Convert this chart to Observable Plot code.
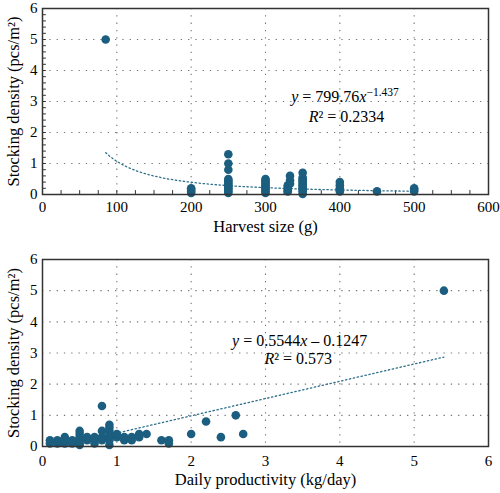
<!DOCTYPE html>
<html><head><meta charset="utf-8">
<script src="https://cdn.jsdelivr.net/npm/d3@7"></script>
<script src="https://cdn.jsdelivr.net/npm/@observablehq/plot@0.6"></script>
<style>body{margin:0;background:#fff} svg{display:block} #c{width:500px}</style>
</head><body><div id="c"></div>
<script>
// ---- Panel A: harvest size vs stocking density ----
const harvestSize = [85,
  200,200,200,200,
  250,250,250,250,250,250,250,250,250,250,250,250,250,
  300,300,300,300,300,300,300,300,300,300,
  330,330,330,330,330,333,333,333,
  350,350,350,350,350,350,350,350,350,350,350,350,
  400,400,400,400,400,
  450,
  500,500,500];
const densityA = [5,
  0.05,0.1,0.15,0.2,
  0.05,0.1,0.15,0.2,0.25,0.3,0.35,0.4,0.45,0.5,0.8,1.0,1.3,
  0.05,0.1,0.15,0.2,0.25,0.3,0.35,0.4,0.45,0.5,
  0.1,0.15,0.2,0.25,0.3,0.35,0.45,0.6,
  0.02,0.1,0.15,0.2,0.25,0.3,0.35,0.4,0.45,0.5,0.55,0.7,
  0.1,0.15,0.2,0.3,0.4,
  0.1,
  0.1,0.15,0.2];
const powerFit = {a: 799.76, b: -1.437, xmin: 85, xmax: 500};

// ---- Panel B: daily productivity vs stocking density ----
const productivity = [0.1,0.1, 0.2,0.2, 0.3,0.3,0.3, 0.4,0.4,
  0.5,0.5,0.5,0.5,0.5,0.5, 0.6,0.6, 0.7,0.7,0.7,
  0.8,0.8,0.8,0.8, 0.9,0.9,0.9,0.9,0.9,0.9,0.9,
  1.0,1.0, 1.1,1.1, 1.2,1.2, 1.3,1.3, 1.4, 1.6, 1.7,1.7,
  2.0, 2.2, 2.4, 2.6, 2.7, 5.4];
const densityB = [0.1,0.2, 0.1,0.2, 0.1,0.2,0.3, 0.1,0.2,
  0.05,0.1,0.2,0.3,0.4,0.5, 0.2,0.3, 0.1,0.2,0.3,
  0.2,0.3,0.5,1.3, 0.05,0.2,0.3,0.4,0.5,0.6,0.7,
  0.3,0.4, 0.2,0.3, 0.2,0.3, 0.3,0.4, 0.4, 0.2, 0.1,0.2,
  0.4, 0.8, 0.3, 1.0, 0.4, 5.0];
const linearFit = {slope: 0.5544, intercept: -0.1247, xmin: 0.25, xmax: 5.4};

const xTicksA = [0,100,200,300,400,500,600];
const xTicksB = [0,1,2,3,4,5,6];
const yTicks = [0,1,2,3,4,5,6];

const labelY = "Stocking density (pcs/m²)";
const labelXA = "Harvest size (g)";
const labelXB = "Daily productivity (kg/day)";

const eqA = [{x: 407, y: 3.14, parts: [["y","i"],[" = 799.76",""],["x","i"],["−1.437","s"]]},
             {x: 409, y: 2.5, parts: [["R","i"],["² = 0.2334",""]]}];
const eqB = [{x: 3.46, y: 3.4, parts: [["y","i"],[" = 0.5544",""],["x","i"],[" – 0.1247",""]]},
             {x: 3.44, y: 2.82, parts: [["R","i"],["² = 0.573",""]]}];

const FONT = "'Liberation Serif', 'DejaVu Serif', serif";
const DOT = "#1b5e7f";
const lineShape = {draw(ctx, l) { ctx.moveTo(0, 0); ctx.lineTo(0, -l); }};

function panel({xs, ys, xDomain, xTicks, minorX, minorY, fitData, eq, xLabel, height, mt, mb, tickPad, labelDy}) {
  const pts = xs.map((x, i) => ({x, y: ys[i]}));
  const marks = [
    Plot.gridX(xTicks.slice(1, -1), {stroke: "#666", strokeOpacity: 0.9, strokeDasharray: "1.3,6", strokeWidth: 1.1}),
    Plot.gridY(yTicks.slice(1, -1), {stroke: "#666", strokeOpacity: 0.9, strokeDasharray: "1.3,6", strokeWidth: 1.1}),
  ];
  if (minorX) marks.push(Plot.vector(minorX, {x: d => d, frameAnchor: "bottom", length: 4, anchor: "start", rotate: 0, shape: lineShape, stroke: "#333", strokeWidth: 1}));
  if (minorY) marks.push(Plot.vector(minorY, {y: d => d, frameAnchor: "left", length: 3, anchor: "start", rotate: 90, shape: lineShape, stroke: "#333", strokeWidth: 1}));
  marks.push(
    Plot.axisX(xTicks, {tickSize: 0, tickPadding: tickPad, fontSize: 15, fill: "#000"}),
    Plot.axisY(yTicks, {tickSize: 0, tickPadding: 5, fontSize: 15, fill: "#000"}),
    Plot.line(fitData, {x: "x", y: "y", stroke: "#2f6f8c", strokeWidth: 1.3, strokeDasharray: "1.4,2.6"}),
    Plot.dot(pts, {x: "x", y: "y", r: 4.3, fill: DOT, stroke: "none"}),
    Plot.text(eq, {x: "x", y: "y", text: d => d.parts.map(p => p[0]).join(""), fontSize: 16, fill: "#000"}),
    Plot.text([labelY], {frameAnchor: "left", textAnchor: "middle", dx: -29, rotate: -90, fontSize: 16.5, fill: "#000"}),
    Plot.text([xLabel], {frameAnchor: "bottom", dy: labelDy, fontSize: 16.5, fill: "#000"}),
    Plot.frame({stroke: "#333", strokeWidth: 1.5})
  );
  const svg = Plot.plot({
    width: 500, height, marginLeft: 42, marginRight: 12, marginTop: mt, marginBottom: mb,
    style: {fontFamily: FONT, background: "#fff"},
    x: {domain: xDomain, label: null},
    y: {domain: [0, 6], label: null},
    marks
  });
  const lookup = new Map(eq.map(e => [e.parts.map(p => p[0]).join(""), e.parts]));
  d3.select(svg).selectAll("text").each(function() {
    const parts = lookup.get(this.textContent);
    if (!parts) return;
    const t = d3.select(this);
    t.text(null);
    for (const [s, kind] of parts) {
      const ts = t.append("tspan").text(s);
      if (kind === "i") ts.attr("font-style", "italic");
      if (kind === "s") ts.attr("font-size", "0.72em").attr("baseline-shift", "super");
    }
  });
  return svg;
}

const fitA = d3.range(powerFit.xmin, powerFit.xmax + 0.1, 5).map(x => ({x, y: powerFit.a * Math.pow(x, powerFit.b)}));
const fitB = [linearFit.xmin, linearFit.xmax].map(x => ({x, y: linearFit.slope * x + linearFit.intercept}));

const c = document.getElementById("c");
c.append(panel({xs: harvestSize, ys: densityA, xDomain: [0, 600], xTicks: xTicksA,
  minorX: d3.range(25, 600, 25), minorY: d3.range(0.2, 6, 0.2),
  fitData: fitA, eq: eqA, xLabel: labelXA, height: 246, mt: 8, mb: 52, tickPad: 7, labelDy: 37}));
c.append(panel({xs: productivity, ys: densityB, xDomain: [0, 6], xTicks: xTicksB,
  minorX: null, minorY: null,
  fitData: fitB, eq: eqB, xLabel: labelXB, height: 247, mt: 13, mb: 47, tickPad: 9, labelDy: 38}));
</script>
</body></html>
